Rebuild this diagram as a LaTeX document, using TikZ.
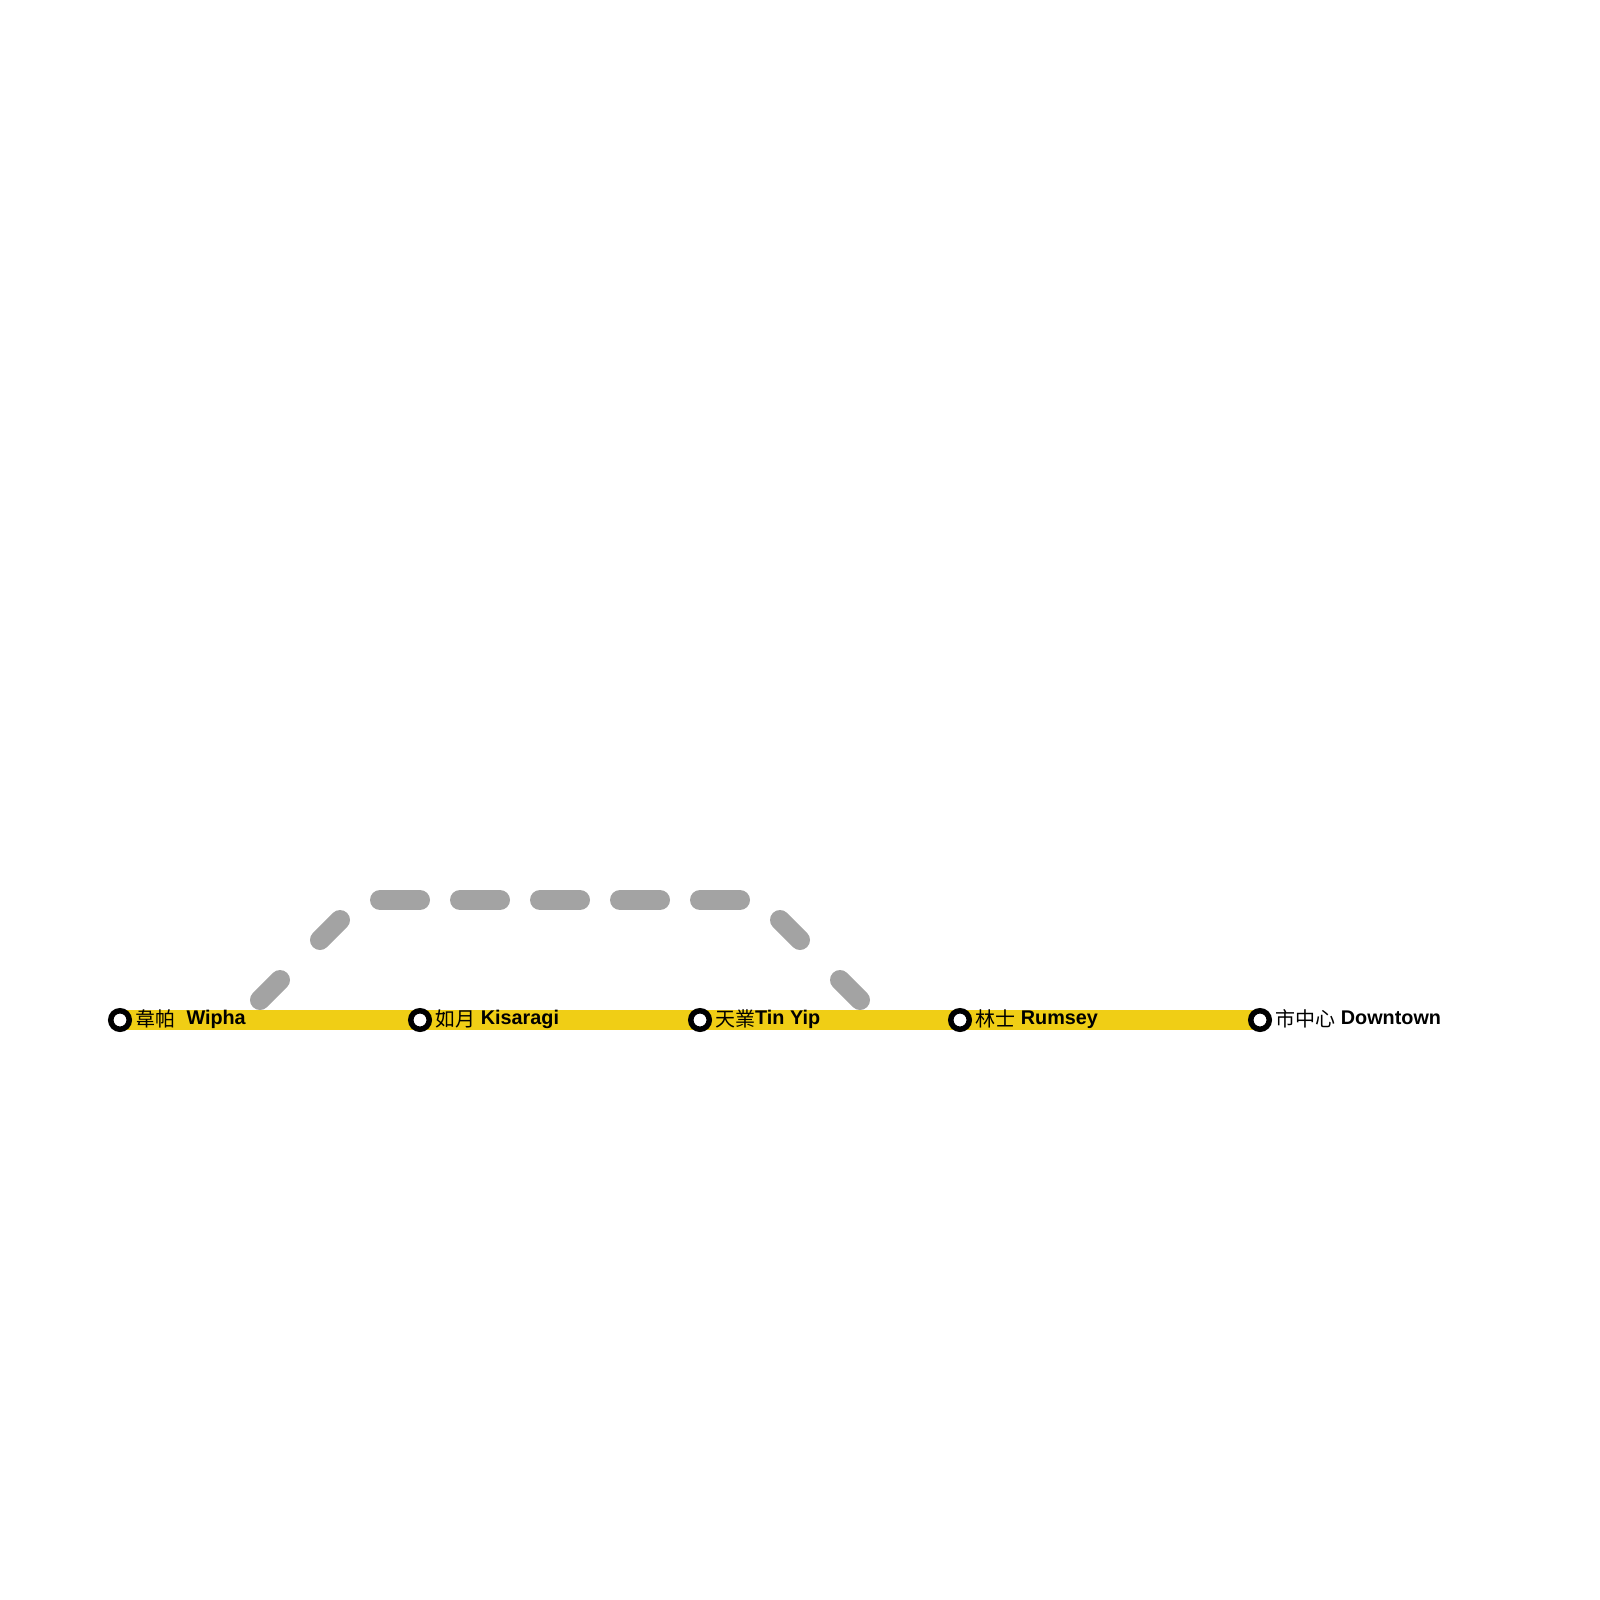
\documentclass[tikz,border=0pt]{standalone}
\usepackage{xcolor}
\usepackage{fontspec}
\setmainfont{Liberation Sans}
\newfontfamily\cjk{Noto Sans CJK TC}
\definecolor{cLine}{HTML}{F0CE15}
\definecolor{cLink}{HTML}{A3A3A3}
\usetikzlibrary{backgrounds}
\tikzset{
  node-stop/.style={draw=black,line width=5.5pt,fill=white,circle,
    inner sep=0pt,outer sep=0pt,minimum size=18.5pt},
  node-zh/.style={anchor=base west,inner sep=0pt,font=\cjk\fontsize{20}{24}\selectfont},
  node-en/.style={anchor=base west,inner sep=0pt,font=\fontsize{19.8}{24}\selectfont\bfseries},
  line-main/.style={line width=20pt,draw=cLine},
  line-link/.style={line width=20pt,draw=cLink,line cap=round},
  link-diag/.style={line-link,dash pattern=on 28.28pt off 56.57pt},
  link-flat/.style={line-link,dash pattern=on 40pt off 40pt},
}
\begin{document}
\begin{tikzpicture}[x=1pt,y=-1pt]
  \useasboundingbox (0,0) rectangle (1600,1600);
  \foreach \x/\n/\zx/\zh/\ex/\en in {120/wipha/135/韋帕/186.3/Wipha,
    420/kisaragi/435/如月/480.7/Kisaragi,700/tinyip/715/天業/755/Tin Yip,
    960/rumsey/975/林士/1020.7/Rumsey,1260/downtown/1275/市中心/1340.7/Downtown} {
    \node[node-stop] (\n) at (\x,1020) {};
    \node[node-zh] (\n-zh) at (\zx,1026.5) {\zh};
    \node[node-en] (\n-en) at (\ex,1024) {\en};
  }
  \coordinate (up-a) at (260,1000);
  \coordinate (up-b) at (340,920);
  \coordinate (top-a) at (380,900);
  \coordinate (top-b) at (740,900);
  \coordinate (down-a) at (780,920);
  \coordinate (down-b) at (860,1000);
  \begin{scope}[on background layer]
    \draw[line-main] (wipha.center) -- (kisaragi.center);
    \draw[line-main] (kisaragi.center) -- (tinyip.center);
    \draw[line-main] (tinyip.center) -- (rumsey.center);
    \draw[line-main] (rumsey.center) -- (downtown.center);
    % the link is cut in three so each part keeps its own dash length
    \draw[link-diag] (up-a) -- (up-b);
    \draw[link-flat] (top-a) -- (top-b);
    \draw[link-diag] (down-a) -- (down-b);
  \end{scope}
\end{tikzpicture}
\end{document}
